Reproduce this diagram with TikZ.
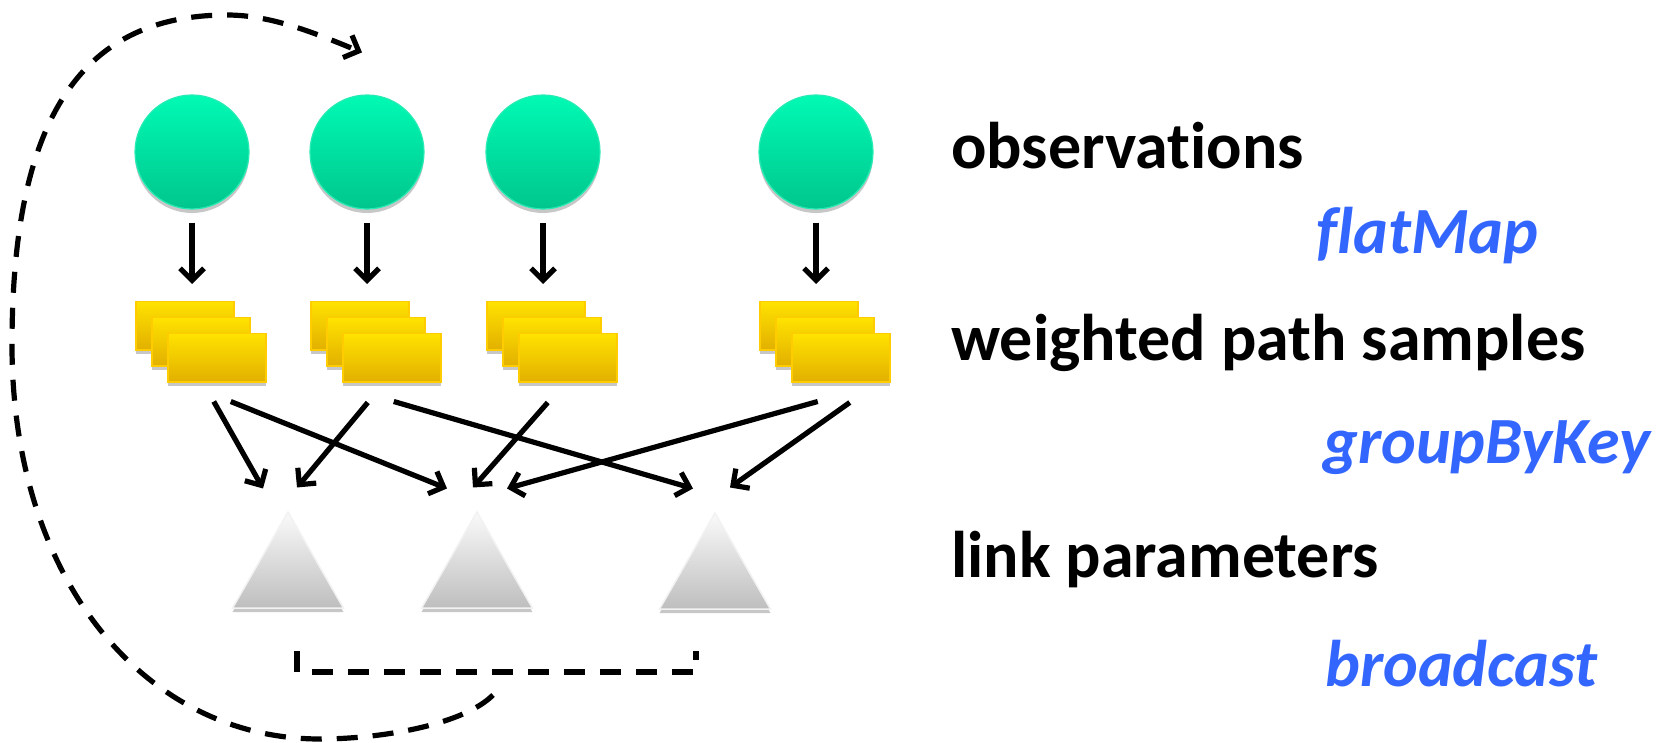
\documentclass[tikz,border=0pt]{standalone}
\usepackage{fontspec}
\setmainfont{Carlito}[Ligatures={NoCommon,NoRare,NoContextual}]
\usetikzlibrary{arrows.meta,shapes.geometric,shadows,calc}
\definecolor{obsTop}{RGB}{0,250,180}
\definecolor{obsBot}{RGB}{0,198,140}
\definecolor{obsEdge}{RGB}{40,235,180}
\definecolor{ylTop}{RGB}{255,226,0}
\definecolor{ylBot}{RGB}{226,176,0}
\definecolor{ylEdge}{RGB}{255,204,0}
\definecolor{trTop}{RGB}{250,250,250}
\definecolor{trBot}{RGB}{190,190,190}
\definecolor{trEdge}{RGB}{242,242,242}
\definecolor{opBlue}{RGB}{51,102,255}
\newcommand\samplegroup[2]{%
  \node[sample, anchor=north west] (#1a) at (#2,301) {};
  \node[sample, anchor=north west] (#1b) at ({#2+16},317) {};
  \node[sample, anchor=north west] (#1) at ({#2+32},333) {};}
\begin{document}
\begin{tikzpicture}[x=1pt,y=-1pt,
  shd/.style={drop shadow={shadow xshift=0pt, shadow yshift=-4pt, opacity=0.22, fill=black}},
  obs/.style={circle, minimum size=114pt, inner sep=0pt, top color=obsTop, bottom color=obsBot, draw=obsEdge, line width=1.2pt, shd},
  sample/.style={rectangle, minimum width=98pt, minimum height=48pt, inner sep=0pt, top color=ylTop, bottom color=ylBot, draw=ylEdge, line width=1.5pt, shd},
  tri/.style={regular polygon, regular polygon sides=3, minimum size=128pt, inner sep=0pt, top color=trTop, bottom color=trBot, draw=trEdge, line width=1.5pt, shd},
  arr/.style={line width=5.2pt, -{Straight Barb[length=12pt,width=24pt]}},
  dsh/.style={line width=5.2pt, dash pattern=on 21pt off 15pt},
  lbl/.style={font=\bfseries\fontsize{66}{72}\selectfont, anchor=base west, inner sep=0pt},
  op/.style={font=\bfseries\itshape\fontsize{66}{72}\selectfont, text=opBlue, anchor=base west, inner sep=0pt}]
\useasboundingbox (0,0) rectangle (1660,743);
% observations
\node[obs] (c1) at (192,152) {};
\node[obs] (c2) at (367,152) {};
\node[obs] (c3) at (543,152) {};
\node[obs] (c4) at (816,152) {};
% samples
\samplegroup{g1}{135}
\samplegroup{g2}{310}
\samplegroup{g3}{486}
\samplegroup{g4}{759}
% link parameters
\node[tri] (t1) at (288,576) {};
\node[tri] (t2) at (477,576) {};
\node[tri] (t3) at (715,577) {};
% flatMap arrows
\foreach \i in {1,2,3,4}
  \draw[arr, shorten <=13pt, shorten >=17pt] (c\i.south) -- (c\i.south |- g\i a.north);
% groupByKey arrows
\draw[arr] ([xshift=-3pt,yshift=-19pt]g1.south) -- ([xshift=-25pt,yshift=22pt]t1.north);
\draw[arr] ([xshift=14pt,yshift=-19pt]g1.south) -- ([xshift=-30pt,yshift=22pt]t2.north);
\draw[arr] ([xshift=-24pt,yshift=-20pt]g2.south) -- ([xshift=9pt,yshift=23pt]t1.north);
\draw[arr] ([xshift=2pt,yshift=-19pt]g2.south) -- ([xshift=-22pt,yshift=23pt]t3.north);
\draw[arr] ([xshift=-20pt,yshift=-20pt]g3.south) -- ([xshift=-4pt,yshift=23pt]t2.north);
\draw[arr] ([xshift=-23pt,yshift=-19pt]g4.south) -- ([xshift=30pt,yshift=22pt]t2.north);
\draw[arr] ([xshift=9pt,yshift=-20pt]g4.south) -- ([xshift=15pt,yshift=24pt]t3.north);
% broadcast
\coordinate (bl) at (297,651);
\coordinate (br) at (696,651);
\coordinate (fb) at (493,695);
\draw[dsh] (bl) -- ++(0,21) -| (br);
\draw[dsh, -{Straight Barb[length=12pt,width=24pt]}] (fb) .. controls (463,725) and (380,739) .. (320,739)
  .. controls (145,739) and (12,580) .. (12,345)
  .. controls (12,125) and (77,15) .. (227,15)
  .. controls (272,15) and (317,34) .. ([xshift=-5pt,yshift=42pt]c2.north);
% labels
\node[lbl] (lo) at (951,169) {observations};
\node[op] (of) at (1316,254) {flatMap};
\node[lbl] (lw) at (951,360) {weighted path samples};
\node[op] (og) at (1323,463) {groupByKey};
\node[lbl] (ll) at (951,577) {link parameters};
\node[op] (ob) at (1325,686) {broadcast};
\end{tikzpicture}
\end{document}
